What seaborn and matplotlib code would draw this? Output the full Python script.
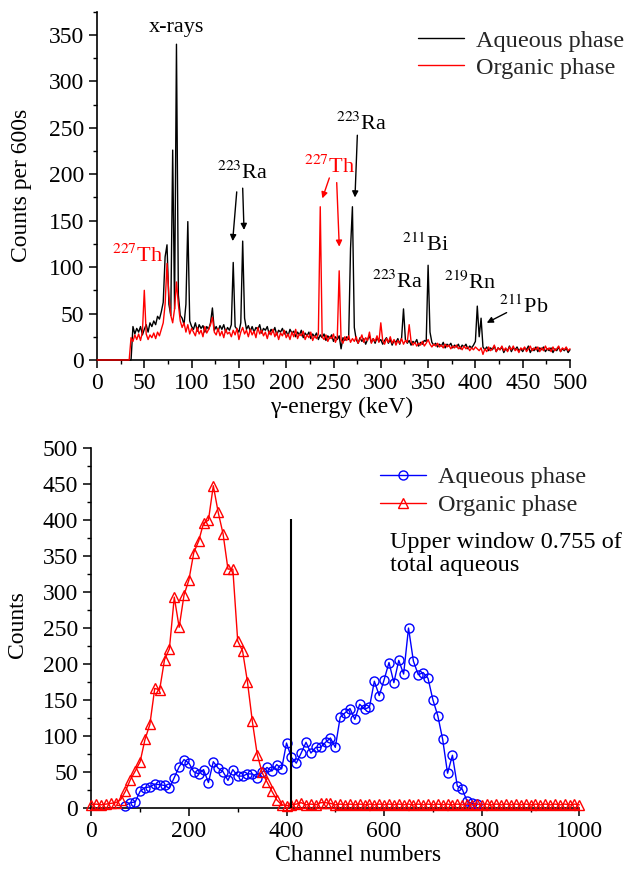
import numpy as np
import matplotlib
matplotlib.use('Agg')
import matplotlib.pyplot as plt
from matplotlib.ticker import MultipleLocator
import seaborn as sns

energy_kev = np.arange(0, 501, 2)

aqueous_gamma = [
    0, 0, 0, 0, 0, 0, 0, 0, 0, 0,              # 0-18
    0, 0, 0, 0, 0, 0, 0, 0, 0, 36,             # 20-38
    28, 34, 30, 36, 27, 33, 38, 30, 40, 36,    # 40-58
    42, 38, 47, 44, 52, 62, 111, 124, 60, 48,  # 60-78
    226, 55, 340, 70, 48, 45, 38, 60, 149, 42, # 80-98
    36, 33, 40, 31, 38, 34, 37, 30, 36, 33,    # 100-118
    40, 56, 32, 36, 31, 37, 33, 38, 30, 35,    # 120-138
    32, 38, 105, 36, 33, 30, 40, 128, 45, 33,  # 140-158
    37, 31, 36, 30, 35, 33, 38, 29, 34, 32,    # 160-178
    36, 28, 33, 30, 35, 27, 32, 30, 34, 28,    # 180-198
    31, 26, 33, 29, 31, 25, 30, 27, 32, 24,    # 200-218
    29, 26, 30, 23, 28, 25, 29, 22, 27, 24,    # 220-238
    28, 21, 26, 23, 27, 20, 25, 22, 26, 12,    # 240-258
    24, 21, 25, 22, 120, 165, 35, 22, 18, 24,  # 260-278
    20, 23, 17, 22, 26, 19, 23, 18, 24, 20,    # 280-298
    22, 17, 21, 24, 18, 22, 16, 21, 19, 23,    # 300-318
    17, 24, 55, 22, 18, 21, 16, 20, 18, 22,    # 320-338
    15, 19, 17, 21, 20, 102, 30, 19, 16, 18,   # 340-358
    14, 17, 15, 19, 13, 17, 15, 18, 13, 16,    # 360-378
    14, 17, 12, 16, 14, 17, 12, 15, 13, 16,    # 380-398
    20, 58, 25, 45, 14, 11, 14, 10, 13, 11,    # 400-418
    15, 9, 13, 11, 14, 8, 12, 10, 15, 9,       # 420-438
    13, 11, 14, 10, 12, 9, 13, 11, 15, 8,      # 440-458
    12, 10, 14, 9, 13, 11, 14, 9, 12, 10,      # 460-478
    13, 8, 12, 10, 14, 9, 12, 10, 13, 8,       # 480-498
    11,                                        # 500
]

organic_gamma = [
    0, 0, 0, 0, 0, 0, 0, 0, 0, 0,              # 0-18
    0, 0, 0, 0, 0, 0, 0, 0, 24, 20,            # 20-38
    27, 22, 28, 21, 30, 75, 28, 22, 27, 24,    # 40-58
    29, 23, 30, 26, 33, 40, 60, 104, 70, 48,   # 60-78
    40, 55, 84, 60, 42, 35, 40, 30, 38, 28,    # 80-98
    34, 30, 26, 35, 28, 32, 25, 36, 29, 33,    # 100-118
    38, 46, 30, 27, 34, 26, 31, 24, 33, 28,    # 120-138
    30, 25, 32, 27, 34, 22, 30, 35, 28, 32,    # 140-158
    25, 33, 27, 31, 24, 35, 28, 32, 26, 30,    # 160-178
    23, 31, 27, 33, 25, 30, 22, 29, 26, 32,    # 180-198
    24, 28, 22, 30, 25, 33, 23, 28, 26, 31,    # 200-218
    22, 27, 24, 30, 21, 26, 23, 28, 165, 25,   # 220-238
    22, 27, 20, 25, 23, 28, 19, 24, 96, 22,    # 240-258
    18, 25, 21, 26, 19, 23, 20, 25, 18, 22,    # 260-278
    27, 19, 24, 21, 30, 18, 23, 20, 26, 19,    # 280-298
    40, 21, 17, 23, 19, 25, 18, 22, 16, 21,    # 300-318
    18, 23, 17, 21, 19, 38, 20, 16, 19, 15,    # 320-338
    18, 16, 20, 15, 18, 22, 17, 14, 17, 15,    # 340-358
    18, 14, 16, 13, 17, 14, 16, 12, 15, 13,    # 360-378
    16, 12, 14, 11, 15, 12, 14, 10, 13, 11,    # 380-398
    14, 12, 10, 13, 6, 12, 9, 14, 10, 12,      # 400-418
    16, 9, 13, 11, 15, 10, 13, 9, 14, 11,      # 420-438
    15, 10, 12, 8, 13, 11, 14, 9, 12, 15,      # 440-458
    10, 13, 11, 14, 9, 13, 10, 15, 11, 13,     # 460-478
    9, 14, 10, 12, 15, 9, 13, 11, 14, 10,      # 480-498
    12,                                        # 500
]

# peak labels: (text, keV, counts, colour)
peak_labels = [
    ('x-rays', 83.5, 358, 'black'),
    (r'$^{227}$Th', 43.3, 112, 'red'),
    (r'$^{223}$Ra', 153.8, 202, 'black'),
    (r'$^{227}$Th', 245.6, 208, 'red'),
    (r'$^{223}$Ra', 279.4, 254, 'black'),
    (r'$^{211}$Bi', 347, 124, 'black'),
    (r'$^{223}$Ra', 317.3, 84, 'black'),
    (r'$^{219}$Rn', 394.8, 83, 'black'),
    (r'$^{211}$Pb', 451.4, 57, 'black'),
]
# arrows: (tail keV, tail counts, tip keV, tip counts, colour)
peak_arrows = [
    (147.7, 181, 143.4, 128, 'black'),
    (154.0, 185, 155.4, 140, 'black'),
    (245.6, 196, 238.2, 174, 'red'),
    (253.4, 191, 256.1, 122, 'red'),
    (275.2, 242, 272.7, 175, 'black'),
    (433.0, 51, 412.0, 40, 'black'),
]

# ---- bottom panel: channel spectra ----
aqueous_channels = np.arange(70, 791, 10)
aqueous_counts = [
    3, 7, 8, 23, 28, 29, 33, 32, 31, 27,            # 70-160
    42, 57, 67, 62, 50, 47, 53, 35, 64, 55,         # 170-260
    50, 38, 53, 44, 44, 47, 47, 42, 49, 56,         # 270-360
    51, 60, 54, 90, 70, 62, 76, 91, 76, 84,         # 370-460
    84, 91, 97, 84, 126, 132, 138, 123, 144, 137,   # 470-560
    140, 176, 156, 178, 202, 174, 205, 186, 250, 204,  # 570-660
    185, 188, 180, 150, 128, 95, 48, 73, 30, 26,    # 670-760
    9, 6, 5,                                        # 770-790
]

organic_channels = np.arange(0, 1001, 10)
organic_counts = [
    4, 5, 4, 5, 6, 7,                               # 0-50
    11, 23, 39, 51, 64, 95, 116, 166, 164, 206,     # 60-150
    221, 293, 251, 296, 317, 355, 371, 396, 400, 448,  # 160-250
    411, 381, 332, 332, 232, 218, 175, 120, 74, 49,  # 260-350
    36, 23, 11, 4, 3,                               # 360-400
    4, 5, 7, 4, 5, 4, 7, 7, 6, 4,                   # 410-500
    5, 4, 5, 4, 5, 4, 5, 4, 5, 4,                   # 510-600
    5, 4, 5, 4, 5, 4, 5, 4, 5, 4,                   # 610-700
    5, 4, 5, 4, 5, 4, 5, 4, 5, 4,                   # 710-800
    5, 4, 5, 4, 5, 4, 5, 4, 5, 4,                   # 810-900
    5, 4, 5, 4, 5, 4, 5, 4, 5, 4,                   # 910-1000
]

window_channel = 410
window_top = 402

sns.set_theme(style='ticks')
plt.rcParams['font.family'] = ['Liberation Serif', 'DejaVu Serif']
plt.rcParams['mathtext.fontset'] = 'stix'

FS = 17


def style_axes(ax):
    sns.despine(ax=ax)
    for side in ('left', 'bottom'):
        ax.spines[side].set_color('black')
        ax.spines[side].set_linewidth(1.2)
    ax.tick_params(which='major', length=6, width=1.1, color='black',
                   labelsize=FS, labelcolor='black', direction='out')
    ax.tick_params(which='minor', length=3, width=1.0, color='black',
                   direction='out')


fig = plt.figure(figsize=(6.25, 8.75), dpi=100)
ax1 = fig.add_axes([0.1552, 0.5886, 0.7568, 0.398])
ax2 = fig.add_axes([0.1461, 0.0769, 0.7808, 0.4107])

# top panel
sns.lineplot(x=energy_kev, y=aqueous_gamma, ax=ax1, color='black', lw=1,
             label='Aqueous phase', clip_on=False, zorder=3)
sns.lineplot(x=energy_kev, y=organic_gamma, ax=ax1, color='red', lw=1,
             label='Organic phase', clip_on=False, zorder=3)
ax1.set_xlim(0, 500)
ax1.set_ylim(0, 375)
ax1.xaxis.set_major_locator(MultipleLocator(50))
ax1.xaxis.set_minor_locator(MultipleLocator(25))
ax1.yaxis.set_major_locator(MultipleLocator(50))
ax1.yaxis.set_minor_locator(MultipleLocator(25))
style_axes(ax1)
ax1.set_xlabel('γ-energy (keV)', fontsize=FS, color='black')
ax1.set_ylabel('Counts per 600s', fontsize=FS, color='black')
ax1.xaxis.set_label_coords(0.518, -0.105)
ax1.yaxis.set_label_coords(-0.137, 0.5)

for txt, x, y, c in peak_labels:
    ax1.text(x, y, txt, color=c, fontsize=16, ha='center', va='center')
for x0, y0, x1, y1, c in peak_arrows:
    ax1.annotate('', xy=(x1, y1), xytext=(x0, y0),
                 arrowprops=dict(arrowstyle='-|>', color=c, lw=1,
                                 mutation_scale=9, shrinkA=0, shrinkB=0))

ax1.legend(loc='upper left', bbox_to_anchor=(0.669, 0.966),
           bbox_transform=fig.transFigure, frameon=False, fontsize=17.5,
           borderpad=0, borderaxespad=0, handlelength=1.9,
           handletextpad=0.5, labelspacing=0.2)

# bottom panel
sns.lineplot(x=aqueous_channels, y=aqueous_counts, ax=ax2, color='blue',
             lw=1, marker='o', markersize=6.5, markerfacecolor='none',
             markeredgecolor='blue', markeredgewidth=1,
             label='Aqueous phase', clip_on=False, zorder=3)
sns.lineplot(x=organic_channels, y=organic_counts, ax=ax2, color='red',
             lw=1, marker='^', markersize=7, markerfacecolor='none',
             markeredgecolor='red', markeredgewidth=1,
             label='Organic phase', clip_on=False, zorder=3)
ax2.vlines(window_channel, 0, window_top, color='black', lw=1.5, zorder=4)
ax2.set_xlim(0, 1000)
ax2.set_ylim(0, 500)
ax2.xaxis.set_major_locator(MultipleLocator(200))
ax2.xaxis.set_minor_locator(MultipleLocator(100))
ax2.yaxis.set_major_locator(MultipleLocator(50))
ax2.yaxis.set_minor_locator(MultipleLocator(25))
style_axes(ax2)
ax2.set_xlabel('Channel numbers', fontsize=FS, color='black')
ax2.set_ylabel('Counts', fontsize=FS, color='black')
ax2.xaxis.set_label_coords(0.546, -0.105)
ax2.yaxis.set_label_coords(-0.13, 0.51)

ax2.legend(loc='upper left', bbox_to_anchor=(0.608, 0.467),
           bbox_transform=fig.transFigure, frameon=False, fontsize=17.5,
           borderpad=0, borderaxespad=0, handlelength=1.9,
           handletextpad=0.5, labelspacing=0.25)
ax2.text(612, 383, 'Upper window 0.755 of\ntotal aqueous', fontsize=17.5,
         ha='left', va='top', linespacing=1.1, color='black')

fig.savefig('out.png', dpi=100, facecolor='white')
